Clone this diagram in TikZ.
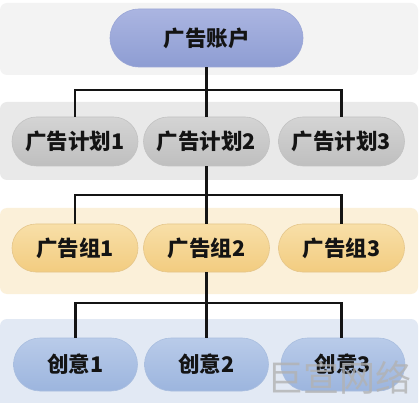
\documentclass[tikz,border=0pt]{standalone}
\usepackage{fontspec}
\setmainfont{Noto Sans CJK SC}
\newfontfamily\cjk{Noto Sans CJK SC}
\usetikzlibrary{shapes.misc}
\definecolor{bandA}{HTML}{F3F3F3}
\definecolor{bandB}{HTML}{E9E9E9}
\definecolor{bandC}{HTML}{FBF0D9}
\definecolor{bandD}{HTML}{E2E9F4}
\definecolor{ABB5E1}{HTML}{ABB5E1}
\definecolor{8E9DD3}{HTML}{8E9DD3}
\definecolor{9AA6D6}{HTML}{9AA6D6}
\definecolor{D4D4D4}{HTML}{D4D4D4}
\definecolor{BFBFBF}{HTML}{BFBFBF}
\definecolor{C2C2C2}{HTML}{C2C2C2}
\definecolor{F8DFA8}{HTML}{F8DFA8}
\definecolor{F2CC80}{HTML}{F2CC80}
\definecolor{E5C68B}{HTML}{E5C68B}
\definecolor{B9CBE9}{HTML}{B9CBE9}
\definecolor{9CB5DE}{HTML}{9CB5DE}
\definecolor{A9BEDF}{HTML}{A9BEDF}
\tikzset{
  x=1pt,y=-1pt,
  band/.style={rounded corners=7pt, draw=none},
  pill/.style={rounded rectangle, minimum height=#1, inner sep=0pt, font=\cjk\bfseries\fontsize{21.5}{23}\selectfont, text=black!92, line width=0.6pt},
  pill/.default=49pt,
  lvA/.style={pill=58pt, minimum width=193pt, top color=ABB5E1, bottom color=8E9DD3, draw=9AA6D6},
  lvB/.style={pill=49pt, minimum width=126pt, top color=D4D4D4, bottom color=BFBFBF, draw=C2C2C2},
  lvC/.style={pill=48pt, minimum width=126pt, top color=F8DFA8, bottom color=F2CC80, draw=E5C68B},
  lvD/.style={pill=53pt, minimum width=124pt, top color=B9CBE9, bottom color=9CB5DE, draw=A9BEDF},
  conn/.style={line width=2.1pt, draw=black!92},
  thickconn/.style={conn, line width=2.8pt},
}
\begin{document}
\begin{tikzpicture}
\useasboundingbox[fill=white] (0,0) rectangle (420,403);
% bands
\fill[band, bandA] (0,3) rectangle (418,75);
\fill[band, bandB] (0,102) rectangle (418,180);
\fill[band, bandC] (0,208) rectangle (418,294);
\fill[band, bandD] (0,319) rectangle (418,409);
% junction coordinates
\coordinate (j1) at (206.5,90);
\coordinate (j2) at (206.5,195);
\coordinate (j3) at (206.5,303);
% nodes
\node[lvA] (acc) at (206.5,38) {广告账户};
\node[lvB] (p1) at (75,141.5) {广告计划1};
\node[lvB] (p2) at (206.5,141.5) {广告计划2};
\node[lvB] (p3) at (341.5,141.5) {广告计划3};
\node[lvC] (g1) at (75,248) {广告组1};
\node[lvC] (g2) at (206.5,248) {广告组2};
\node[lvC] (g3) at (341.5,248) {广告组3};
\node[lvD] (c1) at (75.5,364.5) {创意1};
\node[lvD] (c2) at (206.5,364.5) {创意2};
\node[lvD] (c3) at (343,364.5) {创意3};
% connectors
\draw[conn] (acc.south) -- (j1);
\draw[conn] (j1) -| (p1.north);
\draw[conn] (j1) -- (p2.north);
\draw[conn] (j1) -| (p3.north);
\draw[conn] (p2.south) -- (j2);
\draw[conn] (j2) -| (g1.north);
\draw[conn] (j2) -- (g2.north);
\draw[conn] (j2) -| (g3.north);
\draw[thickconn] (g2.south) -- (j3);
\draw[conn] (j3) -| (c1.north);
\draw[thickconn] (j3) -- (c2.north);
\draw[conn] (j3) -| ([xshift=-1.5pt]c3.north);
% watermark
\node[font=\cjk\fontsize{36}{38}\selectfont, text=black!30, opacity=0.8, inner sep=0pt] (wm) at (339,378) {巨宣网络};
\end{tikzpicture}
\end{document}
